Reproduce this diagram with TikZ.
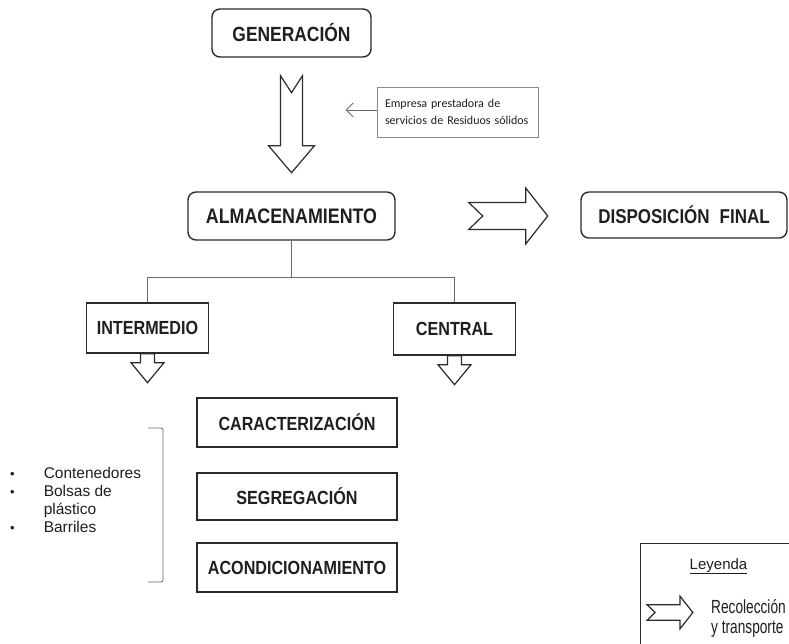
\documentclass[tikz,border=0pt]{standalone}
\usepackage{fontspec}
\setmainfont{Liberation Sans}
\newfontfamily\condfont[FakeStretch=0.85]{Liberation Sans}
\newfontfamily\legfont[FakeStretch=0.72]{Liberation Sans}
\newfontfamily\calfont{Carlito}
\usetikzlibrary{calc,arrows.meta}
\definecolor{txt}{HTML}{1F1F1F}
\definecolor{boxc}{HTML}{2B2B2B}
\definecolor{linec}{HTML}{6A6A6A}
\definecolor{empc}{HTML}{8A8A8A}
\tikzset{
  lbl/.style={draw=boxc, line width=1.4pt, text=txt, inner sep=0pt, anchor=center},
  rbox/.style={lbl, rounded corners=8pt},
  conn/.style={draw=linec, line width=0.8pt},
  fat/.style={draw=boxc, line width=1.2pt, fill=white, line join=miter},
  bigdown/.pic={\path[fat] (-11,0) -- (0,17) -- (11,0) -- (11,70) -- (23,70) -- (0,97) -- (-23,70) -- (-11,70) -- cycle;},
  rightarr/.pic={\path[fat] (0,-13.5) -- (57,-13.5) -- (57,-28) -- (79,0) -- (57,28) -- (57,13.5) -- (0,13.5) -- (14,0) -- cycle;},
  smalldown/.pic={\path[fat] (-7,0) -- (7,0) -- (7,9) -- (16.5,9) -- (0,29) -- (-16.5,9) -- (-7,9) -- cycle;},
  bigf/.style={font=\condfont\bfseries\fontsize{#1}{24}\selectfont}
}
\begin{document}
\begin{tikzpicture}[x=1pt,y=-1pt]
\useasboundingbox (0,0) rectangle (789,644);
\clip (0,0) rectangle (789,644);
\fill[white] (0,0) rectangle (789,644);

% main boxes
\node[rbox, bigf=20.5, minimum width=159pt, minimum height=48pt] (gen) at (291.5,33) {GENERACIÓN};
\node[rbox, bigf=21, minimum width=207pt, minimum height=48pt] (alm) at (291.5,216) {ALMACENAMIENTO};
\node[rbox, bigf=20, minimum width=206pt, minimum height=46pt] (disp) at (684,215) {DISPOSICIÓN\hskip 10pt FINAL};
\node[lbl, bigf=19, minimum width=122pt, minimum height=50pt] (inter) at (147.5,328) {INTERMEDIO};
\node[lbl, bigf=19, minimum width=122pt, minimum height=52pt] (cent) at (454.5,329) {CENTRAL};
\node[lbl, bigf=19, minimum width=200pt, minimum height=49pt] (car) at (297,422.5) {CARACTERIZACIÓN};
\node[lbl, bigf=19, minimum width=200pt, minimum height=47pt] (seg) at (297,496.5) {SEGREGACIÓN};
\node[lbl, bigf=19, minimum width=200pt, minimum height=49pt] (aco) at (297,567.5) {ACONDICIONAMIENTO};

% service company note
\node[draw=empc, line width=0.7pt, text=txt, font=\calfont\fontsize{12}{17}\selectfont,
      text width=145pt, inner xsep=8pt, inner ysep=0pt, minimum height=50pt, align=left]
      (emp) at (457.5,112) {Empresa prestadora de\\servicios de Residuos sólidos};
\coordinate (ea) at ($(emp.west)+(-31,-2)$);
\draw[conn, -{Straight Barb[length=7pt,width=14pt]}] ($(emp.west)+(0,-2)$) -- (ea);

% fat arrows
\pic at ($(gen.south)+(0,18)$) {bigdown};
\pic at ($(alm.east)+(73,0)$) {rightarr};
\pic at (inter.south) {smalldown};
\pic at (cent.south) {smalldown};

% tree connector
\coordinate (j) at ($(alm.south)+(0,37)$);
\draw[conn] (alm.south) -- (j);
\draw[conn] (inter.north) |- (j) -| (cent.north);

% bracket
\draw[conn, rounded corners=2pt] (148,428) -- (163,428) -- (163,582) -- (148,582);

% bullet list
\node[anchor=base west, inner sep=0pt, text=txt, font=\fontsize{15.5}{18}\selectfont] (list) at (10,478)
  {\begin{tabular}[t]{@{}l@{\hspace{29pt}}l@{}}
   {\fontsize{13}{18}\selectfont\textbullet} & Contenedores\\
   {\fontsize{13}{18}\selectfont\textbullet} & Bolsas de\\
    & plástico\\
   {\fontsize{13}{18}\selectfont\textbullet} & Barriles
   \end{tabular}};

% legend
\draw[draw=boxc, line width=0.9pt] (640,543) rectangle (820,700);
\node[anchor=base, inner sep=0pt, text=txt, font=\fontsize{15}{18}\selectfont] (ley) at (718.5,569) {\underline{Leyenda}};
\pic[scale=0.58] at (647,612.5) {rightarr};
\node[anchor=base west, inner sep=0pt, text=txt, font=\legfont\fontsize{19}{20}\selectfont] (rec) at (711,613)
  {\begin{tabular}[t]{@{}l@{}}Recolección\\y transporte\end{tabular}};
\end{tikzpicture}
\end{document}
